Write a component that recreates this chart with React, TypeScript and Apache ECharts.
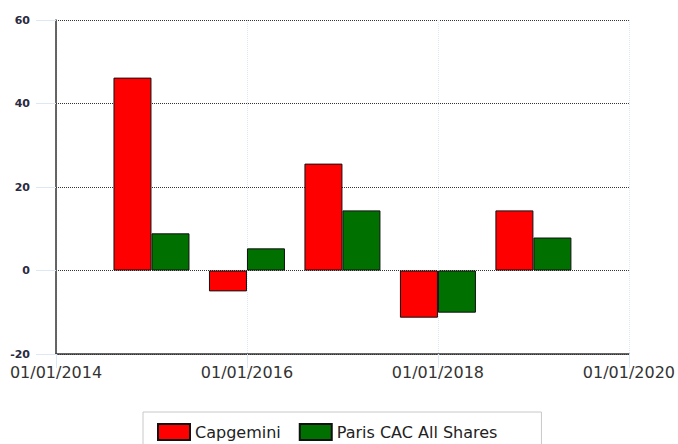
import React, { useEffect, useRef } from "react";
import * as echarts from "echarts";

const years = [2015, 2016, 2017, 2018, 2019];
const capgemini = [46.2, -5.0, 25.6, -11.3, 14.4];
const cacAllShares = [8.9, 5.3, 14.4, -10.1, 7.9];
const seriesNames = ["Capgemini", "Paris CAC All Shares"];
const yTicks = [-20, 0, 20, 40, 60];

export default function App() {
  const ref = useRef<HTMLDivElement>(null);
  useEffect(() => {
    document.body.style.margin = "0";
    document.body.style.overflow = "hidden";
    const chart = echarts.init(ref.current!, undefined, { renderer: "svg" });
    const font = "Tahoma, 'DejaVu Sans', sans-serif";
    chart.setOption({
      animation: false,
      grid: { left: 56, top: 20, right: 43, bottom: 90, containLabel: false },
      legend: {
        left: 143,
        top: 412,
        data: seriesNames,
        icon: "rect",
        itemWidth: 32,
        itemHeight: 16,
        itemGap: 18,
        padding: [11, 44, 10, 14],
        borderColor: "#c8c8c8",
        borderWidth: 1,
        textStyle: { fontSize: 16, color: "#222", fontFamily: font },
      },
      xAxis: {
        type: "value",
        min: 2014,
        max: 2020,
        interval: 2,
        axisLine: { show: true, onZero: false, lineStyle: { color: "#333", width: 1.5 } },
        axisTick: { show: true, length: 14, lineStyle: { color: "#dde8f5" } },
        splitLine: { show: true, lineStyle: { color: "#dde8f5", type: "dotted" } },
        axisLabel: {
          formatter: (v: number) => "01/01/" + v,
          fontSize: 16,
          color: "#333",
          fontFamily: font,
          margin: 10,
          showMaxLabel: true,
          showMinLabel: true,
        },
      },
      yAxis: {
        type: "value",
        min: yTicks[0],
        max: yTicks[yTicks.length - 1],
        interval: 20,
        axisLine: { show: true, lineStyle: { color: "#333", width: 1.5 } },
        axisTick: { show: true, length: 20, lineStyle: { color: "#dde8f5" } },
        splitLine: { show: true, lineStyle: { color: "#333", type: "dotted", width: 1 } },
        axisLabel: { fontSize: 11, fontWeight: "bold", color: "#2a2a40", fontFamily: font, margin: 26 },
      },
      series: [
        {
          name: seriesNames[0],
          type: "bar",
          data: years.map((y, i) => [y, capgemini[i]]),
          barWidth: 38,
          barGap: "0%",
          itemStyle: { color: "#ff0000", borderColor: "#111", borderWidth: 1 },
        },
        {
          name: seriesNames[1],
          type: "bar",
          data: years.map((y, i) => [y, cacAllShares[i]]),
          barWidth: 38,
          barGap: "0%",
          itemStyle: { color: "#007000", borderColor: "#111", borderWidth: 1 },
        },
      ],
    });
    return () => chart.dispose();
  }, []);
  return <div ref={ref} style={{ width: 678, height: 444 }} />;
}
